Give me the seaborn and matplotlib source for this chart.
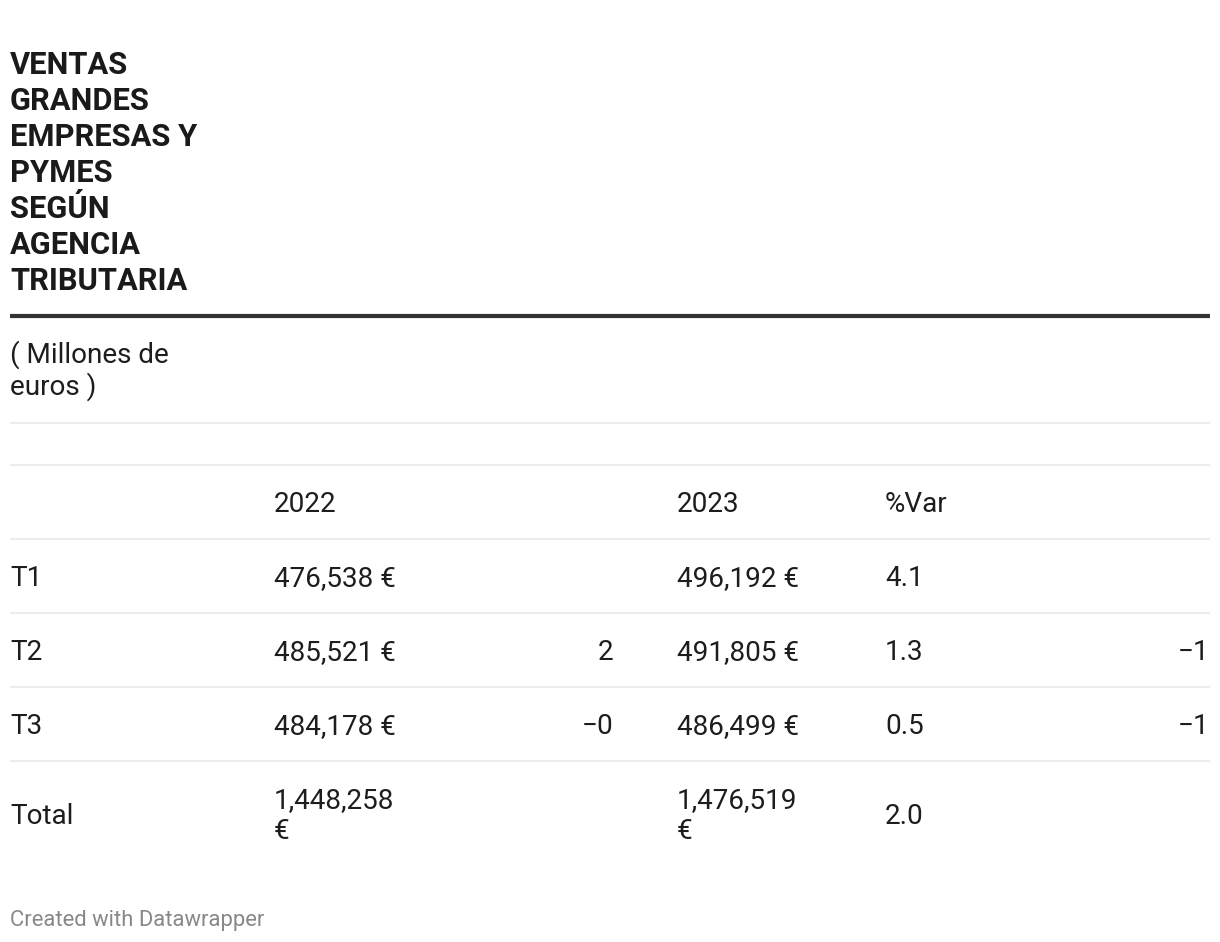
import matplotlib
matplotlib.use("Agg")
import matplotlib.pyplot as plt
import seaborn as sns

# Datos de la tabla
title_lines = ["VENTAS", "GRANDES", "EMPRESAS Y", "PYMES", "SEGÚN", "AGENCIA", "TRIBUTARIA"]
subtitle_lines = ["( Millones de", "euros )"]
columns = ["2022", "2023", "%Var"]
rows = ["T1", "T2", "T3", "Total"]
ventas_2022 = ["476,538 €", "485,521 €", "484,178 €", "1,448,258\n€"]
ventas_2023 = ["496,192 €", "491,805 €", "486,499 €", "1,476,519\n€"]
var_pct = ["4.1", "1.3", "0.5", "2.0"]
extra_a = ["", "2", "−0", ""]
extra_b = ["", "−1", "−1", ""]
footer = "Created with Datawrapper"

sns.set_theme(style="white")
plt.rcParams["font.family"] = ["Roboto", "DejaVu Sans"]

W, H = 1220, 942
fig = plt.figure(figsize=(W / 100, H / 100), dpi=100)
ax = fig.add_axes([0, 0, 1, 1])
ax.set_xlim(0, W)
ax.set_ylim(H, 0)
ax.axis("off")

TXT = "#1d1d1d"
BODY = 20.1  # pt
# --- titulo ---
for i, line in enumerate(title_lines):
    ax.text(10, 73.5 + 36 * i, line, fontsize=22.2, fontweight="bold",
            color="#1a1a1a", va="baseline", ha="left")

ax.plot([10, 1210], [316, 316], color="#333333", lw=3, solid_capstyle="butt")

for i, line in enumerate(subtitle_lines):
    ax.text(10, 363 + 32 * i, line, fontsize=20.1, color=TXT, va="baseline", ha="left")

# --- lineas de la tabla ---
for y in [423, 465, 539, 613, 687, 761]:
    ax.plot([10, 1210], [y, y], color="#ececec", lw=1.5, solid_capstyle="butt")

cap = 9.8
# cabecera
for x, lab in zip([274, 677, 885], columns):
    ax.text(x, 502 + cap, lab, fontsize=BODY, color=TXT, va="baseline", ha="left")

row_y = [576, 650, 724, 814]
for i, r in enumerate(rows):
    y = row_y[i]
    ax.text(10, y + cap, r, fontsize=BODY, color=TXT, va="baseline", ha="left")
    for x, vals in [(274, ventas_2022), (677, ventas_2023)]:
        parts = vals[i].split("\n")
        if len(parts) == 1:
            ax.text(x, y + cap, parts[0], fontsize=BODY, color=TXT, va="baseline", ha="left")
        else:
            for k, p in enumerate(parts):
                ax.text(x, y - 15.5 + 31 * k + cap, p, fontsize=BODY, color=TXT,
                        va="baseline", ha="left")
    ax.text(885, y + cap, var_pct[i], fontsize=BODY, color=TXT, va="baseline", ha="left")
    if extra_a[i]:
        ax.text(613, y + cap, extra_a[i], fontsize=BODY, color=TXT, va="baseline", ha="right")
    if extra_b[i]:
        ax.text(1209, y + cap, extra_b[i], fontsize=BODY, color=TXT, va="baseline", ha="right")

ax.text(10, 926, footer, fontsize=15.8, color="#888888", va="baseline", ha="left")

fig.savefig("out.png", dpi=100, facecolor="white")
